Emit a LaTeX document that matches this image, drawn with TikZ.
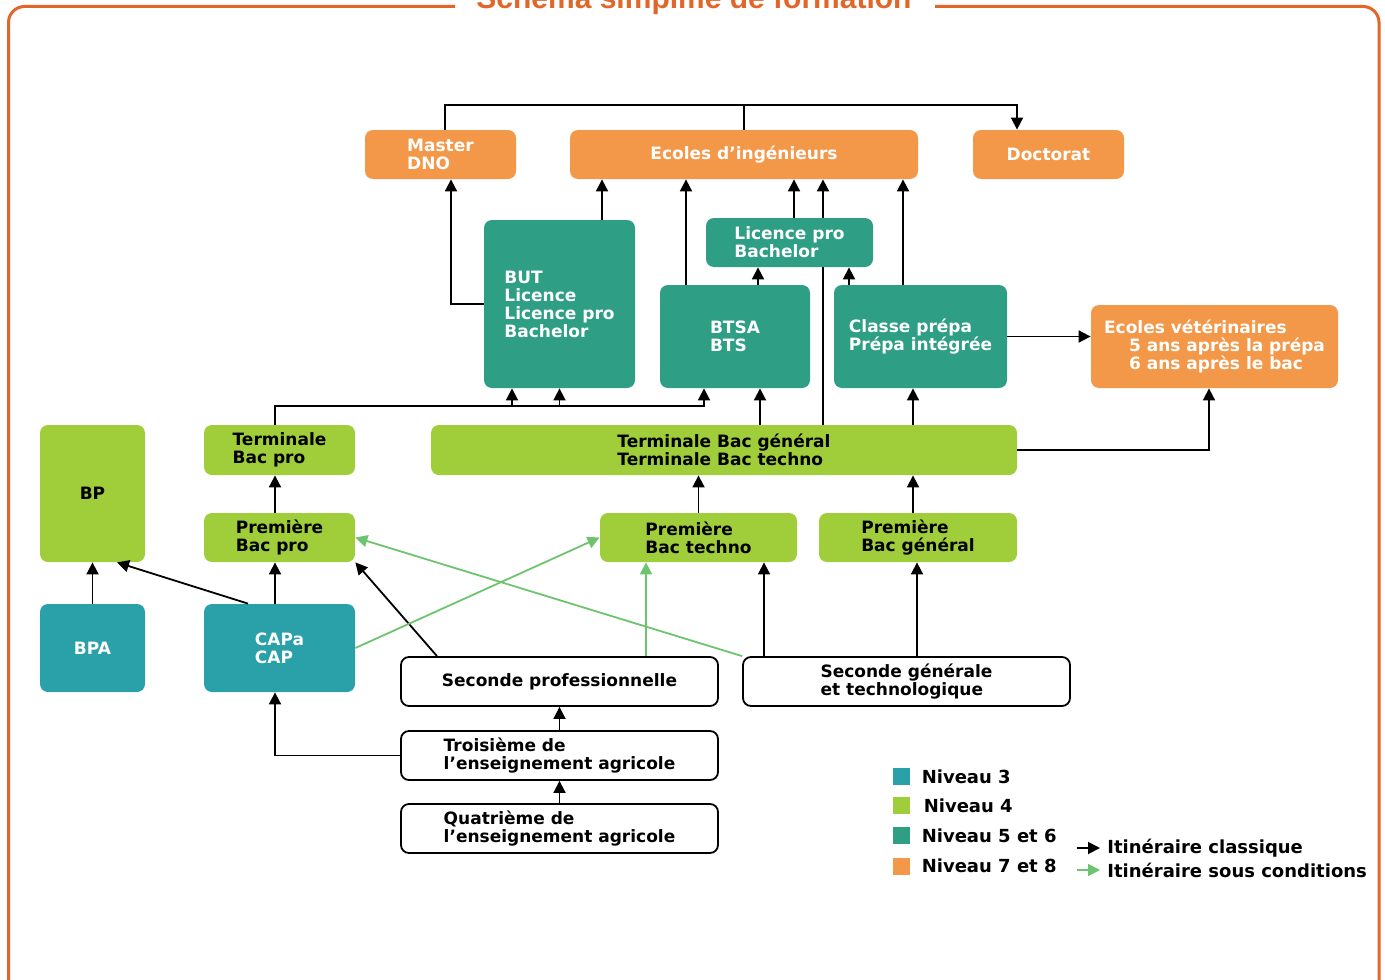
\documentclass[tikz,border=0pt]{standalone}
\usepackage{fontspec}
\setmainfont{DejaVu Sans}
\newfontfamily\titlefont{Liberation Sans}
\usetikzlibrary{arrows.meta}
\usetikzlibrary{backgrounds}

\definecolor{orange7}{HTML}{F39848}
\definecolor{teal3}{HTML}{2AA0A8}
\definecolor{green4}{HTML}{A0CD3A}
\definecolor{teal5}{HTML}{2E9E85}
\definecolor{gline}{HTML}{6EC46E}
\definecolor{frame}{HTML}{E1662A}

\newcommand{\boxtxt}{\bfseries\fontsize{8.5}{9}\selectfont}
\newcommand{\legtxt}{\bfseries\fontsize{9}{10}\selectfont}

\begin{document}
\begin{tikzpicture}[
    x=0.5pt, y=-0.5pt,
    box/.style={rounded corners=4pt, inner sep=0pt, align=left, font=\boxtxt, text=white},
    niv3/.style={box, fill=teal3},
    niv4/.style={box, fill=green4, text=black},
    niv5/.style={box, fill=teal5},
    niv7/.style={box, fill=orange7},
    classe/.style={box, draw=black, line width=0.9pt, fill=white, text=black},
    link/.style={draw=black, line width=0.9pt},
    arr/.style={link, -{Triangle[length=6pt,width=6pt]}},
    garr/.style={draw=gline, line width=0.9pt, -{Triangle[length=6pt,width=6pt]}},
    legsq/.style={fill=#1, minimum size=8.5pt, inner sep=0pt},
    leg/.style={font=\legtxt, inner sep=0pt}
    ]
    \useasboundingbox (0,0) rectangle (1385,979);

    % cadre et titre
    \draw [frame, line width=1.5pt, rounded corners=8pt] (455,6.5) -| (8.5,995);
    \draw [frame, line width=1.5pt, rounded corners=8pt] (935,6.5) -| (1379,995);
    \node [font=\titlefont\bfseries\fontsize{15}{15}\selectfont, text=frame, anchor=base] (titre) at (694,9) {Schéma simplifié de formation};

    % niveaux 7 et 8
    \node [niv7, minimum width=75.5pt, minimum height=24.5pt] (master) at (440.5,154.5) {Master\\DNO};
    \node [niv7, minimum width=174pt, minimum height=24.5pt] (ecoles) at (744,154.5) {Ecoles d’ingénieurs};
    \node [niv7, minimum width=75.5pt, minimum height=24.5pt] (doct) at (1048.5,154.5) {Doctorat};
    \node [niv7, minimum width=123.5pt, minimum height=41.5pt] (veto) at (1214.5,346.5) {Ecoles vétérinaires\\\hspace*{12.5pt}5 ans après la prépa\\\hspace*{12.5pt}6 ans après le bac};

    % niveaux 5 et 6
    \node [niv5, minimum width=83.5pt, minimum height=24.5pt] (lpro) at (789.5,242.5) {Licence pro\\Bachelor};
    \node [niv5, minimum width=75.5pt, minimum height=84pt] (but) at (559.5,304) {BUT\\Licence\\Licence pro\\Bachelor};
    \node [niv5, minimum width=75pt, minimum height=51.5pt] (btsa) at (735,336.5) {BTSA\\BTS};
    \node [niv5, minimum width=86.5pt, minimum height=51.5pt] (prepa) at (920.5,336.5) {Classe prépa\\Prépa intégrée};

    % niveau 4
    \node [niv4, minimum width=293pt, minimum height=25pt] (tgen) at (724,450) {Terminale Bac général\\Terminale Bac techno};
    \node [niv4, minimum width=75.5pt, minimum height=25pt] (tpro) at (279.5,450) {Terminale\\Bac pro};
    \node [niv4, minimum width=52.5pt, minimum height=68.5pt] (bp) at (92.5,493.5) {BP};
    \node [niv4, minimum width=75.5pt, minimum height=24.5pt] (ppro) at (279.5,537.5) {Première\\Bac pro};
    \node [niv4, minimum width=98.5pt, minimum height=24.5pt] (ptec) at (698.5,537.5) {Première\\Bac techno};
    \node [niv4, minimum width=99pt, minimum height=24.5pt] (pgen) at (918,537.5) {Première\\Bac général};

    % niveau 3
    \node [niv3, minimum width=52.5pt, minimum height=44pt] (bpa) at (92.5,648) {BPA};
    \node [niv3, minimum width=75.5pt, minimum height=44pt] (cap) at (279.5,648) {CAPa\\CAP};

    % classes
    \node [classe, minimum width=158.5pt, minimum height=24.5pt] (spro) at (559.5,681.5) {Seconde professionnelle};
    \node [classe, minimum width=163.5pt, minimum height=24.5pt] (sgen) at (906.5,681.5) {Seconde générale\\et technologique};
    \node [classe, minimum width=158.5pt, minimum height=24.5pt] (trois) at (559.5,755.5) {Troisième de\\l’enseignement agricole};
    \node [classe, minimum width=158.5pt, minimum height=24.5pt] (quatre) at (559.5,828.5) {Quatrième de\\l’enseignement agricole};

    % liaisons du haut
    \coordinate (tl) at (445,105);
    \coordinate (tr) at (1017,105);
    \draw [arr] (master.north -| tl) -- (tl) -- (tr) -- (doct.north -| tr);
    \draw [link] (ecoles.north) -- (ecoles.north |- tl);
    \draw [arr] (but.west) -| (master.south -| 451,0);
    \draw [arr] (but.north -| 602,0) -- (ecoles.south -| 602,0);
    \draw [arr] (btsa.north -| 686,0) -- (ecoles.south -| 686,0);
    \draw [arr] (btsa.north -| 758,0) -- (lpro.south -| 758,0);
    \draw [arr] (lpro.north -| 794,0) -- (ecoles.south -| 794,0);
    \begin{scope}[on background layer]
        \draw [arr] (tgen.north -| 823,0) -- (ecoles.south -| 823,0);
    \end{scope}
    \draw [arr] (prepa.north -| 849,0) -- (lpro.south -| 849,0);
    \draw [arr] (prepa.north -| 903,0) -- (ecoles.south -| 903,0);
    \draw [arr] (prepa.east) -- (prepa.east -| veto.west);
    \draw [arr] (tgen.east) -| (veto.south -| 1209,0);
    \draw [arr] (tgen.north -| 760,0) -- (btsa.south -| 760,0);
    \draw [arr] (tgen.north -| 913,0) -- (prepa.south -| 913,0);

    % bac pro
    \coordinate (bh) at (704,406);
    \draw [arr] (tpro.north -| 275,0) |- (bh) -- (btsa.south -| bh);
    \draw [arr] (bh -| 512,0) -- (but.south -| 512,0);
    \draw [arr] (but.south |- bh) -- (but.south);
    \draw [arr] (ppro.north -| 275,0) -- (tpro.south -| 275,0);
    \draw [arr] (cap.north -| 275,0) -- (ppro.south -| 275,0);
    \draw [arr] (bpa) -- (bp);
    \draw [arr] (cap.north -| 248,0) -- (bp.south -| 117,0);
    \draw [arr] (spro.north -| 437,0) -- (ppro.south east);

    % itineraires sous conditions
    \draw [garr] (cap.east) -- (ptec.west);
    \draw [garr] (sgen.north west) -- (ppro.east);
    \draw [garr] (spro.north -| 646,0) -- (ptec.south -| 646,0);

    \draw [arr] (sgen.north -| 764,0) -- (ptec.south -| 764,0);
    \draw [arr] (sgen.north -| 917,0) -- (pgen.south -| 917,0);
    \draw [arr] (ptec.north) -- (tgen.south -| ptec.north);
    \draw [arr] (pgen.north -| 913,0) -- (tgen.south -| 913,0);
    \draw [arr] (trois) -- (spro);
    \draw [arr] (quatre) -- (trois);
    \draw [arr] (trois.west) -| (cap.south -| 275,0);

    % legende
    \node [legsq=teal3, label={[leg, xshift=5.5pt]right:Niveau 3}] (sq3) at (901.5,776.5) {};
    \node [legsq=green4, label={[leg, xshift=6.5pt]right:Niveau 4}] (sq4) at (901.5,805.5) {};
    \node [legsq=teal5, label={[leg, xshift=5.5pt]right:Niveau 5 et 6}] (sq5) at (901.5,835.5) {};
    \node [legsq=orange7, label={[leg, xshift=5.5pt]right:Niveau 7 et 8}] (sq7) at (901.5,866) {};
    \coordinate (lk1) at (1077,848);
    \coordinate (lk2) at (1077,870);
    \node [leg, inner sep=3.5pt, anchor=west] (lclas) at (1100,848) {Itinéraire classique};
    \node [leg, inner sep=3.5pt, anchor=west] (lcond) at (1100,870) {Itinéraire sous conditions};
    \draw [arr] (lk1) -- (lclas);
    \draw [garr] (lk2) -- (lcond);
\end{tikzpicture}
\end{document}
